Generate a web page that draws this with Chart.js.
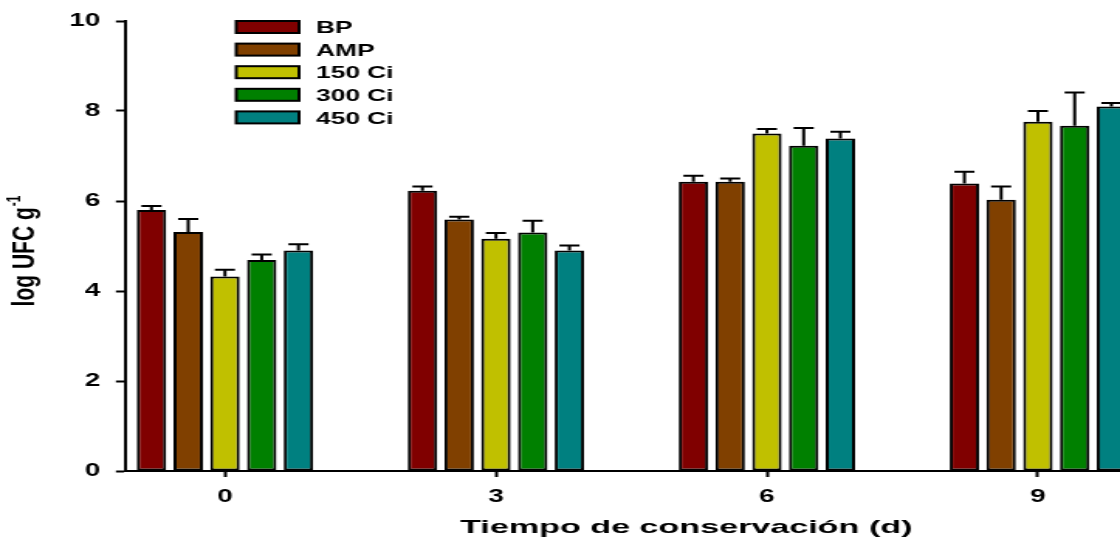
<!DOCTYPE html>
<html>
<head>
<meta charset="utf-8">
<script src="https://cdn.jsdelivr.net/npm/chart.js@4.4.1/dist/chart.umd.min.js"></script>
<style>
  html, body { margin: 0; padding: 0; background: #fff; }
</style>
</head>
<body>
<!-- the source figure is stretched sideways, so draw narrow and widen with an inline style -->
<canvas id="chart1" width="723" height="542" style="width:1120px;height:542px"></canvas>
<script>
const days = [0, 3, 6, 9];
const seriesNames = ['BP', 'AMP', '150 Ci', '300 Ci', '450 Ci'];
const seriesColors = ['#800000', '#804000', '#c0c000', '#008000', '#008080'];

// mean log UFC per day
const bp = [5.80, 6.23, 6.43, 6.39];
const amp = [5.31, 5.59, 6.43, 6.03];
const ci150 = [4.32, 5.16, 7.50, 7.76];
const ci300 = [4.69, 5.30, 7.23, 7.67];
const ci450 = [4.90, 4.90, 7.39, 8.10];

// upper error (sd)
const bpErr = [0.09, 0.09, 0.13, 0.26];
const ampErr = [0.29, 0.06, 0.07, 0.29];
const ci150Err = [0.15, 0.13, 0.10, 0.24];
const ci300Err = [0.12, 0.26, 0.39, 0.74];
const ci450Err = [0.14, 0.11, 0.15, 0.08];

const yTicks = [0, 2, 4, 6, 8, 10];

const means = [bp, amp, ci150, ci300, ci450];
const errs = [bpErr, ampErr, ci150Err, ci300Err, ci450Err];

Chart.defaults.font.family = "'Liberation Sans', Arial, sans-serif";
Chart.defaults.color = '#000';

const datasets = seriesNames.map(function (name, i) {
    return {
        label: name,
        data: days.map(function (d, j) { return {x: d, y: means[i][j]}; }),
        errors: errs[i],
        backgroundColor: seriesColors[i],
        borderColor: '#000',
        borderWidth: 2,
        borderSkipped: false,
        categoryPercentage: 0.678,
        barPercentage: 0.8
    };
});

// error bars, only the upper half like the original
const errorBars = {
    id: 'errorBars',
    afterDatasetsDraw(chart) {
        const ctx = chart.ctx;
        const y = chart.scales.y;
        ctx.save();
        ctx.strokeStyle = '#000';
        ctx.lineWidth = 2;
        chart.data.datasets.forEach(function (ds, i) {
            chart.getDatasetMeta(i).data.forEach(function (bar, j) {
                const top = y.getPixelForValue(ds.data[j].y + ds.errors[j]);
                ctx.beginPath();
                ctx.moveTo(bar.x, bar.y);
                ctx.lineTo(bar.x, top);
                ctx.moveTo(bar.x - 6.5, top);
                ctx.lineTo(bar.x + 6.5, top);
                ctx.stroke();
            });
        });
        ctx.restore();
    }
};

// legend box inside the plot + axis titles
const extras = {
    id: 'extras',
    afterDraw(chart) {
        const ctx = chart.ctx;
        ctx.save();
        chart.data.datasets.forEach(function (ds, i) {
            const top = 21 + i * 22.6;
            ctx.fillStyle = ds.backgroundColor;
            ctx.fillRect(152.5, top, 40.5, 12);
            ctx.strokeStyle = '#000';
            ctx.lineWidth = 2;
            ctx.strokeRect(152.5, top, 40.5, 12);
            ctx.fillStyle = '#000';
            ctx.font = "bold 17px 'Liberation Sans', Arial, sans-serif";
            ctx.textAlign = 'left';
            ctx.textBaseline = 'middle';
            ctx.fillText(ds.label, 204, top + 7.5);
        });

        // x title
        const xt = 'Tiempo de conservación (d)';
        ctx.font = "bold 19px 'Liberation Sans', Arial, sans-serif";
        const k = 292 / ctx.measureText(xt).width;
        ctx.save();
        ctx.translate(443, 528);
        ctx.scale(k, 1);
        ctx.textAlign = 'center';
        ctx.textBaseline = 'middle';
        ctx.fillText(xt, 0, 0);
        ctx.restore();

        // y title with superscript
        const main = 'log UFC g';
        const sup = '-1';
        ctx.font = "bold 21px 'Liberation Sans', Arial, sans-serif";
        const w1 = ctx.measureText(main).width;
        ctx.font = "bold 12px 'Liberation Sans', Arial, sans-serif";
        const w2 = ctx.measureText(sup).width;
        ctx.save();
        ctx.translate(22, 251);
        ctx.rotate(-Math.PI / 2);
        ctx.textAlign = 'left';
        ctx.textBaseline = 'alphabetic';
        const start = -(w1 + w2 + 1) / 2;
        ctx.font = "bold 21px 'Liberation Sans', Arial, sans-serif";
        ctx.fillText(main, start, 0);
        ctx.font = "bold 12px 'Liberation Sans', Arial, sans-serif";
        ctx.fillText(sup, start + w1 + 1, -9);
        ctx.restore();
        ctx.restore();
    }
};

const config = {
    type: 'bar',
    data: {datasets: datasets},
    options: {
        responsive: false,
        devicePixelRatio: 1,
        animation: false,
        layout: {padding: {top: 21, left: 0, right: 0, bottom: 0}},
        plugins: {legend: {display: false}, tooltip: {enabled: false}},
        scales: {
            x: {
                type: 'linear',
                offset: false,
                min: -1.096,
                max: 9.909,
                afterFit: function (scale) { scale.height = 71; },
                afterBuildTicks: function (scale) {
                    scale.ticks = days.map(function (d) { return {value: d}; });
                },
                grid: {offset: false, drawOnChartArea: false, drawTicks: true, tickLength: 6, tickColor: '#000', tickWidth: 2},
                border: {display: true, color: '#000', width: 2},
                ticks: {font: {size: 18, weight: 'bold'}, padding: 9, maxRotation: 0}
            },
            y: {
                min: 0,
                max: 10,
                afterFit: function (scale) { scale.width = 81.3; },
                afterBuildTicks: function (scale) {
                    scale.ticks = yTicks.map(function (v) { return {value: v}; });
                },
                grid: {drawOnChartArea: false, drawTicks: true, tickLength: 6.5, tickColor: '#000', tickWidth: 2},
                border: {display: true, color: '#000', width: 2},
                ticks: {font: {size: 18, weight: 'bold'}, padding: 10}
            }
        }
    },
    plugins: [errorBars, extras]
};

let chart = new Chart(document.getElementById('chart1'), config);
</script>
</body>
</html>
